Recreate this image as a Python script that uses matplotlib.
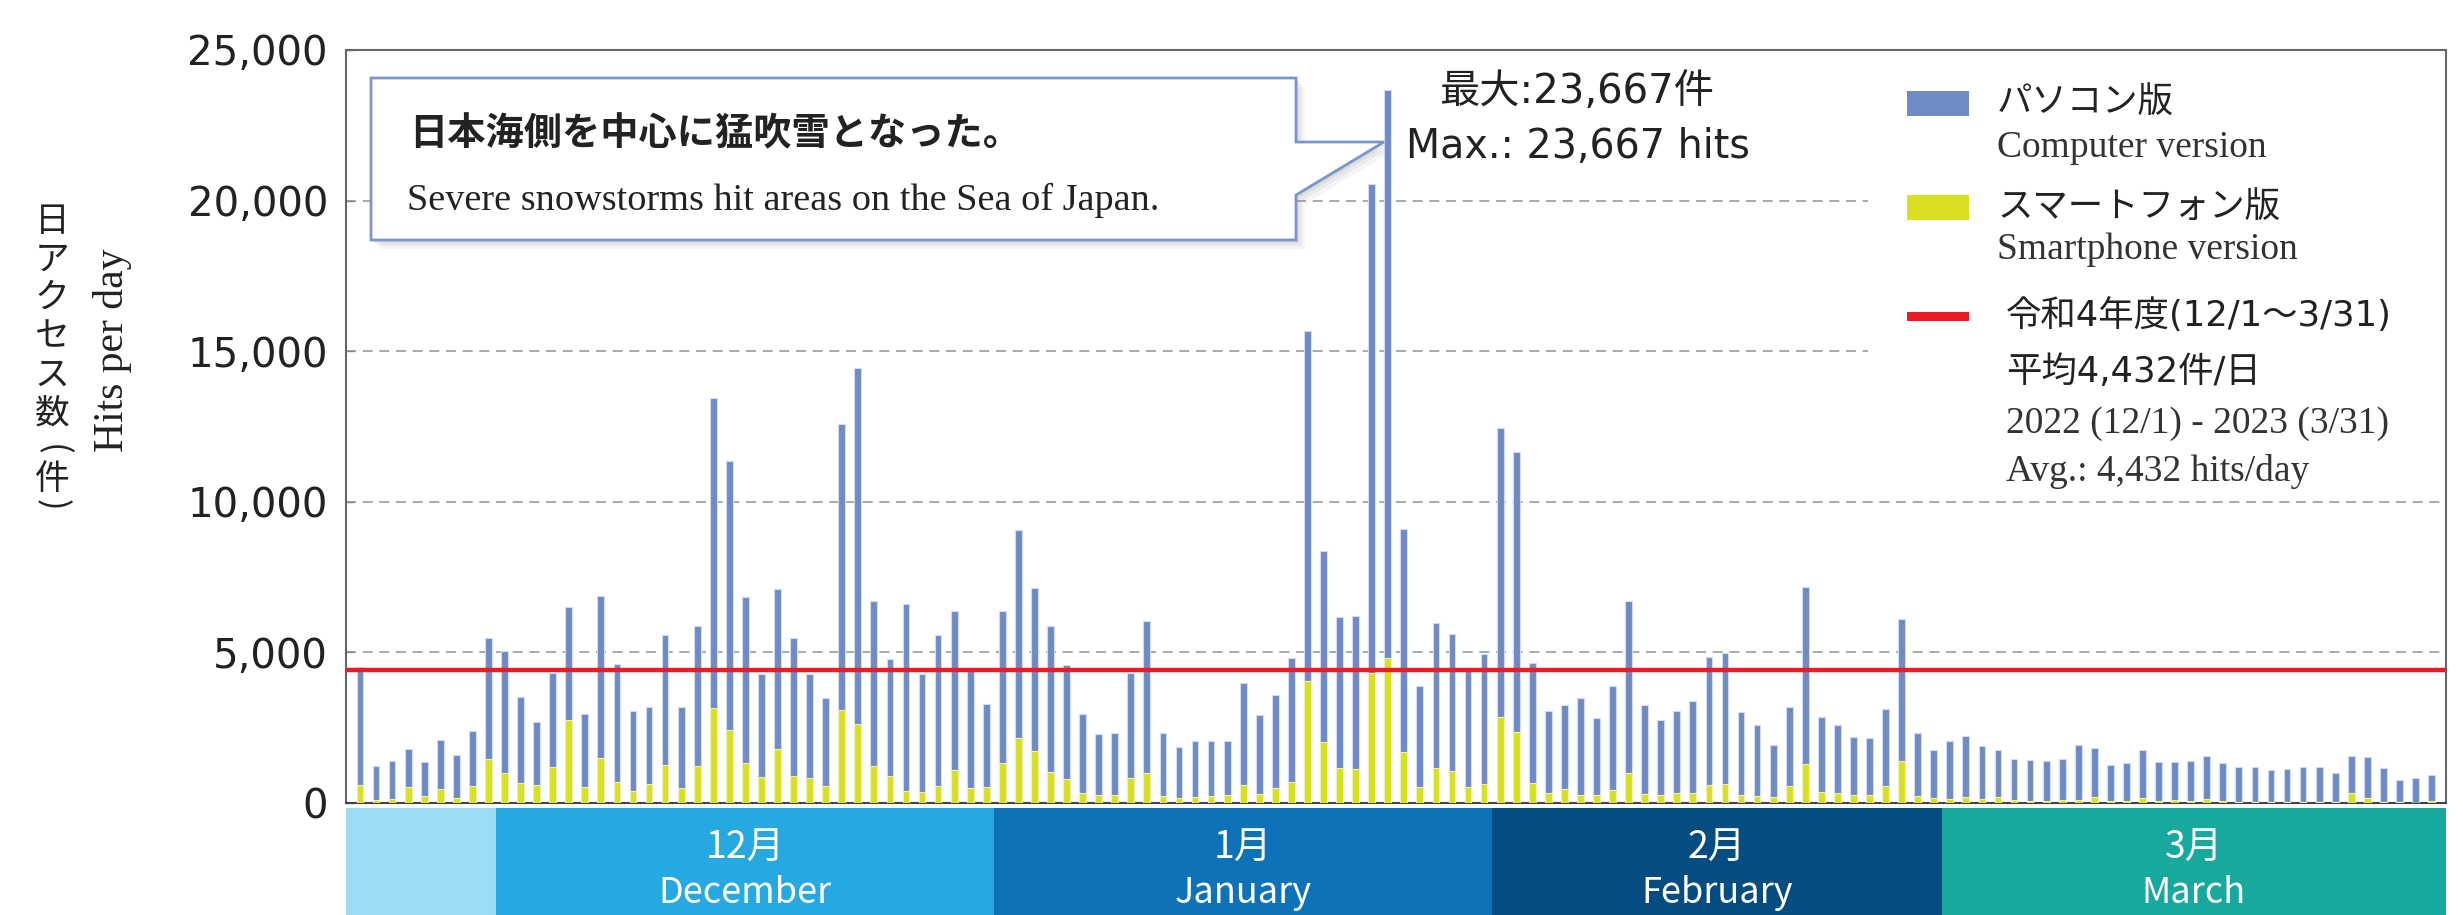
import numpy as np
import matplotlib.pyplot as plt
from matplotlib.patches import Rectangle, Polygon
from matplotlib.ticker import FuncFormatter

JP = ["Noto Sans CJK JP", "DejaVu Sans"]
NUM = ["DejaVu Sans", "Noto Sans CJK JP"]   # wide digits, kana/kanji fall back
SERIF = ["Liberation Serif", "DejaVu Serif"]

# ── colours ───────────────────────────────────────────────────────
BLUE = "#6f8bc6"      # PC version
YELLOW = "#d9e021"    # smartphone version
RED = "#ed1c24"       # season average
BOX_EDGE = "#7b96cf"
BAND_COLORS = ["#9edcf5", "#25a9e0", "#0e72b9", "#054d80", "#17a99d"]

# ── data: daily hits (total = PC + smartphone), 11/22 .. 3/31 ────
nov_total = [4510, 1240, 1400, 1800, 1350, 2080, 1600, 2400, 5480]
nov_smart = [590, 110, 120, 520, 220, 480, 160, 560, 1450]

dec_total = [5050, 3520, 2690, 4300, 6520, 2950, 6870, 4610, 3050, 3180,
             5570, 3200, 5860, 13460, 11340, 6840, 4280, 7100, 5490, 4280,
             3480, 12570, 14450, 6690, 4790, 6600, 4280, 5590, 6360, 4470,
             3290]
dec_smart = [990, 670, 590, 1180, 2750, 530, 1510, 710, 400, 630,
             1250, 510, 1240, 3170, 2410, 1340, 870, 1800, 910, 820,
             550, 3080, 2620, 1230, 910, 400, 350, 560, 1110, 490,
             520]

jan_total = [6390, 9080, 7130, 5890, 4580, 2950, 2300, 2340, 4300, 6040,
             2330, 1860, 2050, 2050, 2070, 3980, 2910, 3600, 4810, 15680,
             8360, 6180, 6220, 20550, 23667, 9090, 3900, 5970, 5610, 4490,
             4950]
jan_smart = [1330, 2150, 1710, 1030, 810, 320, 280, 270, 830, 1000,
             230, 160, 200, 230, 250, 600, 310, 500, 690, 4040,
             2020, 1160, 1130, 4300, 4810, 1680, 520, 1170, 1060, 520,
             640]

feb_total = [12450, 11650, 4650, 3040, 3260, 3490, 2820, 3870, 6720, 3250,
             2760, 3040, 3380, 4850, 4980, 3030, 2600, 1910, 3200, 7180,
             2860, 2580, 2190, 2160, 3110, 6100, 2310, 1750]
feb_smart = [2860, 2370, 670, 340, 470, 280, 250, 420, 1010, 290,
             250, 340, 330, 590, 640, 260, 220, 200, 580, 1290,
             380, 330, 280, 260, 580, 1410, 220, 160]

mar_total = [2070, 2210, 1900, 1750, 1450, 1440, 1410, 1460, 1940, 1820,
             1260, 1330, 1760, 1370, 1360, 1380, 1550, 1320, 1210, 1190,
             1110, 1140, 1210, 1190, 990, 1550, 1520, 1150, 780, 820,
             930]
mar_smart = [140, 190, 140, 190, 110, 80, 80, 110, 110, 200,
             60, 80, 160, 60, 90, 70, 120, 60, 30, 20,
             45, 20, 45, 45, 30, 320, 170, 45, 20, 10,
             55]

AVG = 4432
month_jp = ["", "12月", "1月", "2月", "3月"]
month_en = ["", "December", "January", "February", "March"]

total = nov_total + dec_total + jan_total + feb_total + mar_total
smart = nov_smart + dec_smart + jan_smart + feb_smart + mar_smart
month_len = [len(nov_total), len(dec_total), len(jan_total),
             len(feb_total), len(mar_total)]

# ── figure ────────────────────────────────────────────────────────
W, H = 2463, 915
fig = plt.figure(figsize=(W / 100, H / 100), dpi=100)
fig.patch.set_facecolor("white")

AX_L, AX_R, AX_T, AX_B = 346, 2446, 50, 803
ax = fig.add_axes([AX_L / W, 1 - AX_B / H, (AX_R - AX_L) / W, (AX_B - AX_T) / H])

x = np.arange(len(total))
ax.bar(x, total, width=0.42, color=BLUE, edgecolor="#d3dcf0",
       linewidth=0.8, zorder=3)
ax.bar(x, smart, width=0.42, color=YELLOW, edgecolor="#eef2b5",
       linewidth=0.8, zorder=4)
ax.axhline(AVG, color=RED, lw=3.2, zorder=6)

XLIM = (-0.87, len(total) - 0.1)
ax.set_xlim(*XLIM)
ax.set_ylim(0, 25000)
ax.set_yticks(range(0, 25001, 5000))
ax.yaxis.set_major_formatter(FuncFormatter(lambda v, p: f"{int(v):,}"))
ax.tick_params(axis="y", direction="in", length=6, width=1,
               colors="#888", labelcolor="#222", labelsize=29, pad=13)
ax.set_xticks([])
ax.grid(axis="y", ls=(0, (6, 4)), color="#9c9c9c", lw=1.2, zorder=1)
for s in ax.spines.values():
    s.set_color("#666")
    s.set_linewidth(1.5)
ax.spines["bottom"].set_color("#444")

# ── month band ────────────────────────────────────────────────────
bx = fig.add_axes([AX_L / W, 0, (AX_R - AX_L) / W, (H - 808) / H])
bx.set_xlim(*XLIM)
bx.set_ylim(0, 1)
bx.axis("off")
edges = np.concatenate([[0], np.cumsum(month_len)]) - 0.5
edges[0], edges[-1] = XLIM
for i in range(len(month_len)):
    bx.axvspan(edges[i], edges[i + 1], color=BAND_COLORS[i], lw=0)
    mid = (edges[i] + edges[i + 1]) / 2
    bx.text(mid, 0.62, month_jp[i], ha="center", va="center",
            color="white", fontsize=27, family=JP)
    bx.text(mid, 0.21, month_en[i], ha="center", va="center",
            color="white", fontsize=26, family=JP)

# ── overlay in pixel coords for labels / legend / callout ─────────
ov = fig.add_axes([0, 0, 1, 1], zorder=10)
ov.set_xlim(0, W)
ov.set_ylim(H, 0)
ov.axis("off")

# y-axis labels (vertical Japanese, parentheses turned sideways)
ylab_chars = ["日", "ア", "ク", "セ", "ス", "数", "(", "件", ")"]
ylab_y = [222, 260, 298, 337, 375, 414, 450, 479, 505]
for ch, yy in zip(ylab_chars, ylab_y):
    rot = -90 if ch in "()" else 0
    ov.text(52, yy, ch, ha="center", va="center", fontsize=25,
            family=JP, color="#222", rotation=rot)
ov.text(112, 350, "Hits per day", rotation=90, ha="center", va="center",
        fontsize=30, family=SERIF, color="#222")

# callout box with pointer to the maximum
box = [(371, 78), (1296, 78), (1296, 142), (1384, 142), (1296, 195),
       (1296, 240), (371, 240)]
for k, a in enumerate([0.08, 0.10, 0.14]):
    off = 9 - 3 * k
    ov.add_patch(Polygon([(px + off, py + off) for px, py in box],
                         closed=True, fc="#888", ec="none", alpha=a))
ov.add_patch(Polygon(box, closed=True, fc="white", ec=BOX_EDGE, lw=2))
ov.text(409, 134, "日本海側を中心に猛吹雪となった。", ha="left", va="center",
        fontsize=27.5, fontweight="bold", family=JP, color="#222")
ov.text(407, 210, "Severe snowstorms hit areas on the Sea of Japan.",
        ha="left", va="baseline", fontsize=27.5, family=SERIF, color="#222")

peak = max(total)
ov.text(1577, 92, f"最大:{peak:,}件", ha="center", va="center",
        fontsize=29, family=NUM, color="#222")
ov.text(1578, 158, f"Max.: {peak:,} hits", ha="center", va="baseline",
        fontsize=28.5, family=NUM, color="#222")

# legend
ov.add_patch(Rectangle((1868, 53), 2442 - 1868, 490 - 53, fc="white",
                       ec="none"))
ov.add_patch(Rectangle((1907, 91), 62, 25, fc=BLUE, ec="none"))
ov.text(1997, 102, "パソコン版", va="center", fontsize=25.5, family=JP,
        color="#222")
ov.text(1997, 157, "Computer version", va="baseline", fontsize=27,
        family=SERIF, color="#333")
ov.add_patch(Rectangle((1907, 195), 62, 25, fc=YELLOW, ec="none"))
ov.text(1997, 207, "スマートフォン版", va="center", fontsize=25.5, family=JP,
        color="#222")
ov.text(1997, 259, "Smartphone version", va="baseline", fontsize=27,
        family=SERIF, color="#333")
ov.add_patch(Rectangle((1907, 312), 62, 9, fc=RED, ec="none"))
ov.text(2006, 316, "令和4年度(12/1～3/31)", va="center", fontsize=25.5,
        family=NUM, color="#222")
ov.text(2006, 372, f"平均{AVG:,}件/日", va="center", fontsize=25.5,
        family=NUM, color="#222")
ov.text(2006, 433, "2022 (12/1) - 2023 (3/31)", va="baseline", fontsize=27,
        family=SERIF, color="#333")
ov.text(2006, 481, f"Avg.: {AVG:,} hits/day", va="baseline", fontsize=27,
        family=SERIF, color="#333")

fig.savefig("out.png", dpi=100, facecolor="white")
plt.close(fig)
